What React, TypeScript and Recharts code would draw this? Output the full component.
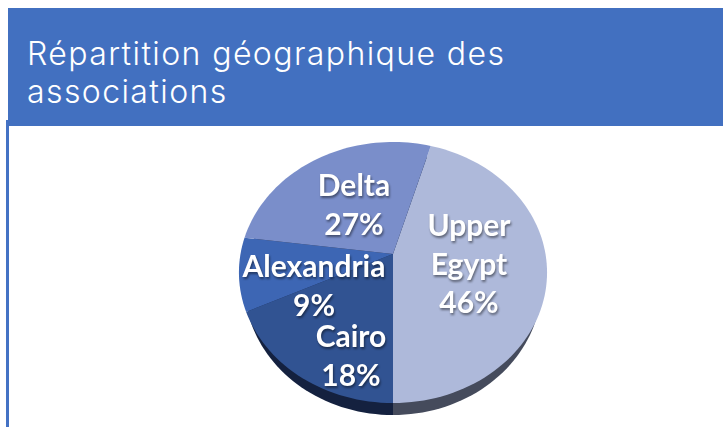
import { PieChart, Pie, Cell } from 'recharts';

const regions = ['Upper Egypt', 'Cairo', 'Alexandria', 'Delta'];
const shares = [46, 18, 9, 27];
const topColors = ['#AEB9DA', '#315392', '#3D66B4', '#7A8ECA'];
const wallColors = ['#454B5C', '#14213F', '#14213F', '#14213F'];
const labelCenters = [[469, 226], [351, 337], [314, 267], [354, 186]];

const chartData = regions.map((name, i) => ({ name, value: shares[i] }));

const CX = 393;
const CY = 254;
const PERSPECTIVE = 0.1418;

// tilted disc: flat pie angle -> point on the projected top face
const project = (deg: number, a: number, b: number, cx: number, cy: number) => {
  const flat = (deg * Math.PI) / 180;
  // far side of the disc is turned a little in the original
  const rad = flat - (2 * Math.PI * Math.max(0, Math.sin(flat))) / 180;
  const u = Math.cos(rad);
  const v = Math.sin(rad);
  const d = 1 + PERSPECTIVE * v;
  return [cx + (a * u) / d, cy - (b * v) / d];
};

const slicePath = (start: number, end: number, a: number, b: number, cx: number, cy: number) => {
  const steps = Math.max(2, Math.ceil(Math.abs(end - start) / 2));
  let path = `M${cx},${cy}`;
  for (let i = 0; i <= steps; i++) {
    const [x, y] = project(start + ((end - start) * i) / steps, a, b, cx, cy);
    path += `L${x.toFixed(2)},${y.toFixed(2)}`;
  }
  return path + 'Z';
};

const TopSlice = (props: any) => (
  <path d={slicePath(props.startAngle, props.endAngle, 152.5, 127.9, props.cx, props.cy)} fill={props.fill} />
);

const WallSlice = (props: any) => (
  <path d={slicePath(props.startAngle, props.endAngle, 147, 127.9, props.cx, props.cy)} fill={props.fill} />
);

const SliceLabel = ({ index, name, value }: any) => {
  const lines = [...String(name).split(' '), `${value}%`];
  const [x, y] = labelCenters[index];
  return (
    <text
      x={x}
      textAnchor="middle"
      fill="#fff"
      fontFamily="Lato, sans-serif"
      fontWeight={700}
      fontSize={30}
      style={{ filter: 'drop-shadow(1px 2px 1px rgba(0,0,0,0.45))' }}
    >
      {lines.map((line, i) => (
        <tspan key={line} x={x} y={y + 10 + i * 38.5}>{line}</tspan>
      ))}
    </text>
  );
};

export default function App() {
  return (
    <div style={{ position: 'absolute', left: 0, top: 0, width: 723, height: 427, overflow: 'hidden', background: '#fff' }}>
      <div style={{ position: 'absolute', left: 6, top: 120, width: 2.5, height: 307, background: '#4472C4' }} />
      <div
        style={{
          position: 'absolute', left: 8, top: 8, width: 715, height: 118, background: '#4270C0',
          color: '#fff', fontFamily: 'Inter, sans-serif', fontWeight: 300, fontSize: 32, lineHeight: '37.5px', letterSpacing: 1.4,
        }}
      >
        <div style={{ position: 'absolute', left: 19, top: 27, whiteSpace: 'nowrap' }}>
          Répartition géographique des<br />associations
        </div>
      </div>
      <div style={{ position: 'absolute', left: 0, top: 0 }}>
        <PieChart width={723} height={427} margin={{ top: 0, right: 0, bottom: 0, left: 0 }}>
          <Pie
            data={chartData}
            dataKey="value"
            cx={CX}
            cy={CY + 12}
            outerRadius={120}
            startAngle={75.6}
            endAngle={-284.4}
            stroke="none"
            shape={WallSlice}
            isAnimationActive={false}
            style={{ filter: 'drop-shadow(1px 2px 2px rgba(0,0,0,0.3))' }}
          >
            {wallColors.map((c, i) => <Cell key={i} fill={c} />)}
          </Pie>
          <Pie
            data={chartData}
            dataKey="value"
            cx={CX}
            cy={CY}
            outerRadius={120}
            startAngle={75.6}
            endAngle={-284.4}
            stroke="none"
            shape={TopSlice}
            label={SliceLabel}
            labelLine={false}
            isAnimationActive={false}
          >
            {topColors.map((c, i) => <Cell key={i} fill={c} />)}
          </Pie>
        </PieChart>
      </div>
    </div>
  );
}
